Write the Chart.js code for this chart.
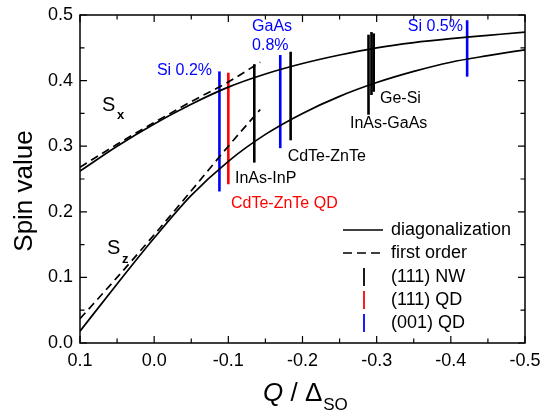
<!DOCTYPE html>
<html>
<head>
<meta charset="utf-8">
<script src="https://cdn.jsdelivr.net/npm/chart.js@4.4.1/dist/chart.umd.min.js"></script>
<style>
  html, body { margin: 0; padding: 0; background: #fff; }
  #wrap { width: 542px; height: 413px; }
</style>
</head>
<body>
<div id="wrap"><canvas id="chart" width="542" height="413"></canvas></div>
<script>
// Spin value vs Q / Delta_SO

// diagonalization curves (solid)
const qDiag = [0.1, 0.05, 0.0, -0.05, -0.1, -0.15, -0.2, -0.25, -0.3, -0.35, -0.4, -0.45, -0.5];
const sxDiag = [0.262, 0.300, 0.334, 0.364, 0.390, 0.410, 0.426, 0.439, 0.450, 0.458, 0.464, 0.469, 0.474];
const szDiag = [0.018, 0.090, 0.160, 0.225, 0.277, 0.318, 0.350, 0.376, 0.397, 0.414, 0.428, 0.438, 0.447];

// first order curves (dashed)
const qFirst = [0.1, 0.05, 0.0, -0.05, -0.1, -0.143];
const sxFirst = [0.268, 0.303, 0.336, 0.368, 0.398, 0.428];
const szFirst = [0.037, 0.100, 0.165, 0.232, 0.300, 0.356];

// vertical bars (material ranges)
const barQ = [-0.088, -0.100, -0.135, -0.170, -0.184, -0.289, -0.293, -0.296, -0.422];
const barLow = [0.231, 0.242, 0.275, 0.297, 0.309, 0.348, 0.378, 0.383, 0.406];
const barHigh = [0.414, 0.412, 0.425, 0.439, 0.444, 0.470, 0.474, 0.472, 0.492];
const barKind = ['(001) QD', '(111) QD', '(111) NW', '(001) QD', '(111) NW', '(111) NW', '(111) NW', '(111) NW', '(001) QD'];

// text labels next to the bars
const labelText = ['Si 0.2%', 'GaAs', '0.8%', 'Si 0.5%', 'Ge-Si', 'InAs-GaAs', 'CdTe-ZnTe', 'InAs-InP', 'CdTe-ZnTe QD'];
const labelQ = [-0.078, -0.132, -0.132, -0.342, -0.3045, -0.264, -0.180, -0.109, -0.1036];
const labelS = [0.416, 0.483, 0.453, 0.483, 0.373, 0.335, 0.284, 0.250, 0.212];

const xTicks = [0.1, 0.0, -0.1, -0.2, -0.3, -0.4, -0.5];
const yTicks = [0.0, 0.1, 0.2, 0.3, 0.4, 0.5];

const kindColor = { '(111) NW': '#000000', '(111) QD': '#ff0000', '(001) QD': '#0000ff' };
const labelColor = ['#0000ff', '#0000ff', '#0000ff', '#0000ff', '#000000', '#000000', '#000000', '#000000', '#ff0000'];
const legendKinds = ['(111) NW', '(111) QD', '(001) QD'];

const FONT = "'Liberation Sans', Arial, sans-serif";

function pts(xs, ys) {
    return xs.map((x, i) => ({ x: x, y: ys[i] }));
}

const datasets = [
    { data: pts(qDiag, sxDiag), borderColor: '#000', borderWidth: 1.7, cubicInterpolationMode: 'monotone' },
    { data: pts(qDiag, szDiag), borderColor: '#000', borderWidth: 1.7, cubicInterpolationMode: 'monotone' },
    { data: pts(qFirst, sxFirst), borderColor: '#000', borderWidth: 1.7, borderDash: [8, 5], cubicInterpolationMode: 'monotone' },
    { data: pts(qFirst, szFirst), borderColor: '#000', borderWidth: 1.7, borderDash: [8, 5], cubicInterpolationMode: 'monotone' }
];
barQ.forEach((q, i) => {
    datasets.push({
        data: [{ x: q, y: barLow[i] }, { x: q, y: barHigh[i] }],
        borderColor: kindColor[barKind[i]],
        borderWidth: 2.6
    });
});

const decor = {
    id: 'decor',
    afterDatasetsDraw(chart) {
        const c = chart.ctx;
        const a = chart.chartArea;
        const xs = chart.scales.x, ys = chart.scales.y;
        c.save();
        // frame
        c.strokeStyle = '#000';
        c.lineWidth = 1.5;
        c.strokeRect(a.left, a.top, a.right - a.left, a.bottom - a.top);
        // inward ticks on all sides
        c.lineWidth = 1.2;
        c.beginPath();
        for (let v = -0.5; v <= 0.1001; v += 0.05) {
            const px = xs.getPixelForValue(v);
            const major = Math.abs(Math.round(v * 10) - v * 10) < 1e-6;
            const len = major ? 7 : 4.5;
            c.moveTo(px, a.bottom); c.lineTo(px, a.bottom - len);
            c.moveTo(px, a.top); c.lineTo(px, a.top + len);
        }
        for (let v = 0; v <= 0.5001; v += 0.05) {
            const py = ys.getPixelForValue(v);
            const major = Math.abs(Math.round(v * 10) - v * 10) < 1e-6;
            const len = major ? 7 : 4.5;
            c.moveTo(a.left, py); c.lineTo(a.left + len, py);
            c.moveTo(a.right, py); c.lineTo(a.right - len, py);
        }
        c.stroke();

        // bar labels
        c.textBaseline = 'middle';
        c.font = '16px ' + FONT;
        labelText.forEach((t, i) => {
            c.fillStyle = labelColor[i];
            c.textAlign = i === 0 ? 'right' : 'left';
            c.fillText(t, xs.getPixelForValue(labelQ[i]), ys.getPixelForValue(labelS[i]));
        });

        // S_x and S_z
        c.fillStyle = '#000';
        c.textAlign = 'left';
        c.textBaseline = 'alphabetic';
        c.font = '20px ' + FONT;
        c.fillText('S', 102, 111);
        c.fillText('S', 107, 254);
        c.font = 'bold 13px ' + FONT;
        c.fillText('x', 117, 119);
        c.fillText('z', 122, 263);

        // legend
        c.font = '18px ' + FONT;
        c.textBaseline = 'middle';
        const rows = [230, 253, 277, 300, 323];
        c.lineWidth = 1.7;
        c.strokeStyle = '#000';
        c.beginPath(); c.moveTo(343, rows[0]); c.lineTo(383, rows[0]); c.stroke();
        c.setLineDash([9, 5]);
        c.beginPath(); c.moveTo(343, rows[1]); c.lineTo(383, rows[1]); c.stroke();
        c.setLineDash([]);
        c.fillText('diagonalization', 391, rows[0]);
        c.fillText('first order', 391, rows[1]);
        legendKinds.forEach((k, i) => {
            const y = rows[i + 2];
            c.strokeStyle = kindColor[k];
            c.lineWidth = 1.8;
            c.beginPath(); c.moveTo(364, y - 9); c.lineTo(364, y + 9); c.stroke();
            c.fillText(k, 391, y);
        });

        // axis titles
        c.fillStyle = '#000';
        c.textBaseline = 'alphabetic';
        c.save();
        c.translate(32, 191);
        c.rotate(-Math.PI / 2);
        c.textAlign = 'center';
        c.font = '26px ' + FONT;
        c.fillText('Spin value', 0, 0);
        c.restore();

        c.textAlign = 'left';
        c.font = 'italic 26px ' + FONT;
        let x = 263;
        c.fillText('Q', x, 401);
        x += c.measureText('Q').width;
        c.font = '26px ' + FONT;
        c.fillText(' / \u0394', x, 401);
        x += c.measureText(' / \u0394').width;
        c.font = '17px ' + FONT;
        c.fillText('SO', x + 1, 410);
        c.restore();
    }
};

const ctx = document.querySelector('#chart').getContext('2d');
const chart = new Chart(ctx, {
    type: 'line',
    data: { datasets: datasets },
    options: {
        responsive: false,
        animation: false,
        layout: { padding: { top: 15, right: 17, left: 0, bottom: 0 } },
        elements: { point: { radius: 0 } },
        plugins: {
            legend: { display: false },
            tooltip: { enabled: false }
        },
        scales: {
            x: {
                type: 'linear',
                min: -0.5,
                max: 0.1,
                reverse: true,
                afterFit(scale) {
                    scale.height = 70;
                    scale.paddingLeft = 0;
                    scale.paddingRight = 0;
                },
                afterBuildTicks(scale) { scale.ticks = xTicks.map(v => ({ value: v })); },
                grid: { display: false, drawTicks: false },
                border: { display: false },
                ticks: {
                    padding: 7,
                    color: '#000',
                    font: { size: 18, family: FONT },
                    maxRotation: 0,
                    callback: v => (Math.abs(v) < 1e-9 ? '0.0' : v.toFixed(1))
                }
            },
            y: {
                min: 0,
                max: 0.5,
                afterFit(scale) {
                    scale.width = 80;
                    scale.paddingTop = 0;
                    scale.paddingBottom = 0;
                },
                afterBuildTicks(scale) { scale.ticks = yTicks.map(v => ({ value: v })); },
                grid: { display: false, drawTicks: false },
                border: { display: false },
                ticks: {
                    padding: 7,
                    color: '#000',
                    font: { size: 18, family: FONT },
                    callback: v => v.toFixed(1)
                }
            }
        }
    },
    plugins: [decor]
});
</script>
</body>
</html>
